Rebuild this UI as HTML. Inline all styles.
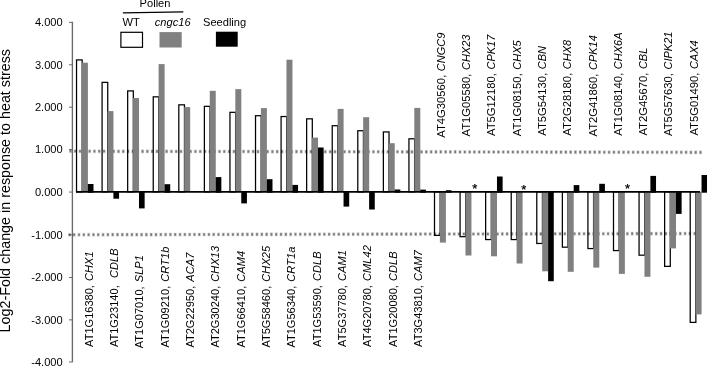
<!DOCTYPE html>
<html><head><meta charset="utf-8"><title>Log2-Fold change in response to heat stress</title>
<style>html,body{margin:0;padding:0;background:#fff}svg{display:block}</style></head>
<body>
<svg width="707" height="366" viewBox="0 0 707 366" font-family="Liberation Sans, Arial, Helvetica, sans-serif" fill="#000">
<rect width="707" height="366" fill="#fff"/>
<g stroke="#6a6a6a" stroke-width="1.35" fill="none">
<line x1="72.4" y1="21.87" x2="72.4" y2="362.23"/>
<line x1="69" y1="361.98" x2="72.4" y2="361.98" stroke-width="1"/>
<line x1="69" y1="319.86" x2="72.4" y2="319.86" stroke-width="1"/>
<line x1="69" y1="277.49" x2="72.4" y2="277.49" stroke-width="1"/>
<line x1="69" y1="234.87" x2="72.4" y2="234.87" stroke-width="1"/>
<line x1="69" y1="192.05" x2="72.4" y2="192.05" stroke-width="1"/>
<line x1="69" y1="149.63" x2="72.4" y2="149.63" stroke-width="1"/>
<line x1="69" y1="107.21" x2="72.4" y2="107.21" stroke-width="1"/>
<line x1="69" y1="64.79" x2="72.4" y2="64.79" stroke-width="1"/>
<line x1="69" y1="22.37" x2="72.4" y2="22.37" stroke-width="1"/>
</g>
<g font-size="11.1" text-anchor="end">
<text x="62.7" y="366.12">-4.000</text>
<text x="62.7" y="323.83">-3.000</text>
<text x="62.7" y="281.38">-2.000</text>
<text x="62.7" y="238.75">-1.000</text>
<text x="62.7" y="195.98">0.000</text>
<text x="62.7" y="153.49">1.000</text>
<text x="62.7" y="111.00">2.000</text>
<text x="62.7" y="68.51">3.000</text>
<text x="62.7" y="26.02">4.000</text>
</g>
<rect x="76.53" y="59.92" width="5.65" height="131.93" fill="#fff" stroke="#000" stroke-width="1.25"/>
<rect x="102.09" y="82.38" width="5.65" height="109.47" fill="#fff" stroke="#000" stroke-width="1.25"/>
<rect x="127.67" y="90.92" width="5.65" height="100.92" fill="#fff" stroke="#000" stroke-width="1.25"/>
<rect x="153.24" y="96.83" width="5.65" height="95.02" fill="#fff" stroke="#000" stroke-width="1.25"/>
<rect x="178.81" y="104.83" width="5.65" height="87.02" fill="#fff" stroke="#000" stroke-width="1.25"/>
<rect x="204.38" y="106.33" width="5.65" height="85.52" fill="#fff" stroke="#000" stroke-width="1.25"/>
<rect x="229.95" y="112.33" width="5.65" height="79.52" fill="#fff" stroke="#000" stroke-width="1.25"/>
<rect x="255.52" y="115.72" width="5.65" height="76.12" fill="#fff" stroke="#000" stroke-width="1.25"/>
<rect x="281.09" y="116.53" width="5.65" height="75.32" fill="#fff" stroke="#000" stroke-width="1.25"/>
<rect x="306.65" y="118.83" width="5.65" height="73.02" fill="#fff" stroke="#000" stroke-width="1.25"/>
<rect x="332.23" y="125.72" width="5.65" height="66.12" fill="#fff" stroke="#000" stroke-width="1.25"/>
<rect x="357.79" y="130.72" width="5.65" height="61.12" fill="#fff" stroke="#000" stroke-width="1.25"/>
<rect x="383.37" y="131.93" width="5.65" height="59.92" fill="#fff" stroke="#000" stroke-width="1.25"/>
<rect x="408.94" y="138.82" width="5.65" height="53.03" fill="#fff" stroke="#000" stroke-width="1.25"/>
<rect x="434.50" y="191.85" width="5.65" height="43.53" fill="#fff" stroke="#000" stroke-width="1.25"/>
<rect x="460.08" y="191.85" width="5.65" height="44.83" fill="#fff" stroke="#000" stroke-width="1.25"/>
<rect x="485.64" y="191.85" width="5.65" height="47.72" fill="#fff" stroke="#000" stroke-width="1.25"/>
<rect x="511.22" y="191.85" width="5.65" height="47.72" fill="#fff" stroke="#000" stroke-width="1.25"/>
<rect x="536.78" y="191.85" width="5.65" height="51.62" fill="#fff" stroke="#000" stroke-width="1.25"/>
<rect x="562.36" y="191.85" width="5.65" height="55.33" fill="#fff" stroke="#000" stroke-width="1.25"/>
<rect x="587.92" y="191.85" width="5.65" height="56.72" fill="#fff" stroke="#000" stroke-width="1.25"/>
<rect x="613.50" y="191.85" width="5.65" height="58.72" fill="#fff" stroke="#000" stroke-width="1.25"/>
<rect x="639.06" y="191.85" width="5.65" height="63.33" fill="#fff" stroke="#000" stroke-width="1.25"/>
<rect x="664.63" y="191.85" width="5.65" height="74.53" fill="#fff" stroke="#000" stroke-width="1.25"/>
<rect x="690.21" y="191.85" width="5.65" height="130.53" fill="#fff" stroke="#000" stroke-width="1.25"/>
<g stroke="rgba(0,0,0,0.09)" stroke-width="4.2" stroke-dasharray="3.3 1.51" stroke-dashoffset="0.65" fill="none">
<line x1="69.4" y1="151.25" x2="701.9" y2="152.35"/>
<line x1="68.4" y1="234.75" x2="695.4" y2="233.55"/>
</g>
<g stroke="rgba(0,0,0,0.20)" stroke-width="3.1" stroke-dasharray="2.4 2.41" stroke-dashoffset="0.2" fill="none">
<line x1="69.4" y1="151.25" x2="701.9" y2="152.35"/>
<line x1="68.4" y1="234.75" x2="695.4" y2="233.55"/>
</g>
<g stroke="rgba(0,0,0,0.36)" stroke-width="2.1" stroke-dasharray="1.6 3.21" stroke-dashoffset="-0.2" fill="none">
<line x1="69.4" y1="151.25" x2="701.9" y2="152.35"/>
<line x1="68.4" y1="234.75" x2="695.4" y2="233.55"/>
</g>
<rect x="81.90" y="62.70" width="6.0" height="129.15" fill="#808080"/>
<rect x="87.85" y="184.00" width="5.65" height="8.70"/>
<rect x="107.47" y="111.10" width="6.0" height="80.75" fill="#808080"/>
<rect x="113.42" y="191.85" width="5.65" height="6.85"/>
<rect x="133.04" y="98.00" width="6.0" height="93.85" fill="#808080"/>
<rect x="138.99" y="191.85" width="5.65" height="16.55"/>
<rect x="158.61" y="64.10" width="6.0" height="127.75" fill="#808080"/>
<rect x="164.56" y="184.20" width="5.65" height="8.50"/>
<rect x="184.18" y="107.10" width="6.0" height="84.75" fill="#808080"/>
<rect x="209.75" y="90.80" width="6.0" height="101.05" fill="#808080"/>
<rect x="215.70" y="177.10" width="5.65" height="15.60"/>
<rect x="235.32" y="89.10" width="6.0" height="102.75" fill="#808080"/>
<rect x="241.27" y="191.85" width="5.65" height="11.55"/>
<rect x="260.89" y="108.10" width="6.0" height="83.75" fill="#808080"/>
<rect x="266.84" y="179.20" width="5.65" height="13.50"/>
<rect x="286.46" y="59.70" width="6.0" height="132.15" fill="#808080"/>
<rect x="292.41" y="184.90" width="5.65" height="7.80"/>
<rect x="312.03" y="137.60" width="6.0" height="54.25" fill="#808080"/>
<rect x="317.98" y="147.50" width="5.65" height="45.20"/>
<rect x="337.60" y="108.90" width="6.0" height="82.95" fill="#808080"/>
<rect x="343.55" y="191.85" width="5.65" height="14.75"/>
<rect x="363.17" y="117.20" width="6.0" height="74.65" fill="#808080"/>
<rect x="369.12" y="191.85" width="5.65" height="17.65"/>
<rect x="388.74" y="143.20" width="6.0" height="48.65" fill="#808080"/>
<rect x="394.69" y="189.50" width="5.65" height="3.20"/>
<rect x="414.31" y="107.90" width="6.0" height="83.95" fill="#808080"/>
<rect x="420.26" y="189.60" width="5.65" height="3.10"/>
<rect x="439.88" y="191.85" width="6.0" height="50.75" fill="#808080"/>
<rect x="445.83" y="190.20" width="5.65" height="2.50"/>
<rect x="465.45" y="191.85" width="6.0" height="63.65" fill="#808080"/>
<rect x="491.02" y="191.85" width="6.0" height="64.45" fill="#808080"/>
<rect x="496.97" y="176.50" width="5.65" height="16.20"/>
<rect x="516.59" y="191.85" width="6.0" height="71.65" fill="#808080"/>
<rect x="542.16" y="191.85" width="6.0" height="79.45" fill="#808080"/>
<rect x="548.11" y="191.85" width="5.65" height="89.35"/>
<rect x="567.73" y="191.85" width="6.0" height="79.95" fill="#808080"/>
<rect x="573.68" y="185.10" width="5.65" height="7.60"/>
<rect x="593.30" y="191.85" width="6.0" height="75.75" fill="#808080"/>
<rect x="599.25" y="183.80" width="5.65" height="8.90"/>
<rect x="618.87" y="191.85" width="6.0" height="82.05" fill="#808080"/>
<rect x="644.44" y="191.85" width="6.0" height="84.95" fill="#808080"/>
<rect x="650.39" y="175.90" width="5.65" height="16.80"/>
<rect x="670.01" y="191.85" width="6.0" height="56.55" fill="#808080"/>
<rect x="675.96" y="191.85" width="5.65" height="22.05"/>
<rect x="695.58" y="191.85" width="6.0" height="122.55" fill="#808080"/>
<rect x="701.53" y="175.00" width="5.65" height="17.70"/>
<line x1="76" y1="191.85" x2="700" y2="191.85" stroke="#000" stroke-width="1.7"/>
<text x="474.70" y="193.10" font-size="13" text-anchor="middle" stroke="#000" stroke-width="0.25">*</text>
<text x="523.90" y="193.70" font-size="13" text-anchor="middle" stroke="#000" stroke-width="0.25">*</text>
<text x="627.60" y="193.10" font-size="13" text-anchor="middle" stroke="#000" stroke-width="0.25">*</text>
<text x="139.6" y="7.4" font-size="11.1">Pollen</text>
<line x1="122.9" y1="12.9" x2="183.3" y2="11.9" stroke="#000" stroke-width="1.2"/>
<text x="122.6" y="26.3" font-size="11.1">WT</text>
<text x="154.8" y="25.8" font-size="11.1" font-style="italic">cngc16</text>
<text x="203" y="25.8" font-size="11.1">Seedling</text>
<rect x="120.9" y="32.3" width="21.6" height="15" fill="#fff" stroke="#000" stroke-width="1.2"/>
<rect x="159.5" y="32.1" width="22.2" height="15.4" fill="#808080"/>
<rect x="215.9" y="31.7" width="21.8" height="15"/>
<text transform="translate(9.9 332.4) rotate(-90)" font-size="14.3" textLength="283.4" lengthAdjust="spacingAndGlyphs">Log2-Fold change in response to heat stress</text>
<g font-size="11.05">
<text transform="translate(92.50 346.9) rotate(-90)" xml:space="preserve">AT1G16380, <tspan font-style="italic" dx="1" letter-spacing="0.08">CHX1</tspan></text>
<text transform="translate(117.84 347.1) rotate(-90)" xml:space="preserve">AT1G23140, <tspan font-style="italic" dx="1" letter-spacing="0.08"> CDLB</tspan></text>
<text transform="translate(143.18 348.2) rotate(-90)" xml:space="preserve">AT1G07010, <tspan font-style="italic" dx="1" letter-spacing="0.08">SLP1</tspan></text>
<text transform="translate(168.52 347.6) rotate(-90)" xml:space="preserve">AT1G09210, <tspan font-style="italic" dx="1" letter-spacing="0.08">CRT1b</tspan></text>
<text transform="translate(193.86 347.6) rotate(-90)" xml:space="preserve">AT2G22950, <tspan font-style="italic" dx="1" letter-spacing="0.08">ACA7</tspan></text>
<text transform="translate(219.20 347.6) rotate(-90)" xml:space="preserve">AT2G30240, <tspan font-style="italic" dx="1" letter-spacing="0.08">CHX13</tspan></text>
<text transform="translate(244.54 347.6) rotate(-90)" xml:space="preserve">AT1G66410, <tspan font-style="italic" dx="1" letter-spacing="0.08">CAM4</tspan></text>
<text transform="translate(269.88 347.6) rotate(-90)" xml:space="preserve">AT5G58460, <tspan font-style="italic" dx="1" letter-spacing="0.08">CHX25</tspan></text>
<text transform="translate(295.22 347.6) rotate(-90)" xml:space="preserve">AT1G56340, <tspan font-style="italic" dx="1" letter-spacing="0.08">CRT1a</tspan></text>
<text transform="translate(320.56 346.9) rotate(-90)" xml:space="preserve">AT1G53590, <tspan font-style="italic" dx="1" letter-spacing="0.08">CDLB</tspan></text>
<text transform="translate(345.90 346.9) rotate(-90)" xml:space="preserve">AT5G37780, <tspan font-style="italic" dx="1" letter-spacing="0.08">CAM1</tspan></text>
<text transform="translate(371.24 346.9) rotate(-90)" xml:space="preserve">AT4G20780, <tspan font-style="italic" dx="1" letter-spacing="0.08">CML42</tspan></text>
<text transform="translate(396.58 346.9) rotate(-90)" xml:space="preserve">AT1G20080, <tspan font-style="italic" dx="1" letter-spacing="0.08">CDLB</tspan></text>
<text transform="translate(421.92 346.9) rotate(-90)" xml:space="preserve">AT3G43810, <tspan font-style="italic" dx="1" letter-spacing="0.08">CAM7</tspan></text>
<text font-size="11.25" transform="translate(444.70 137.7) rotate(-90)" xml:space="preserve">AT4G30560, <tspan font-style="italic" font-size="11" dx="0.4">CNGC9</tspan></text>
<text font-size="11.25" transform="translate(470.01 136.5) rotate(-90)" xml:space="preserve">AT1G05580, <tspan font-style="italic" font-size="11" dx="0.4">CHX23</tspan></text>
<text font-size="11.25" transform="translate(495.32 136.0) rotate(-90)" xml:space="preserve">AT5G12180, <tspan font-style="italic" font-size="11" dx="0.4">CPK17</tspan></text>
<text font-size="11.25" transform="translate(520.63 136.2) rotate(-90)" xml:space="preserve">AT1G08150, <tspan font-style="italic" font-size="11" dx="0.4">CHX5</tspan></text>
<text font-size="11.25" transform="translate(545.94 135.7) rotate(-90)" xml:space="preserve">AT5G54130, <tspan font-style="italic" font-size="11" dx="0.4">CBN</tspan></text>
<text font-size="11.25" transform="translate(571.25 135.7) rotate(-90)" xml:space="preserve">AT2G28180, <tspan font-style="italic" font-size="11" dx="0.4">CHX8</tspan></text>
<text font-size="11.25" transform="translate(596.56 136.5) rotate(-90)" xml:space="preserve">AT2G41860, <tspan font-style="italic" font-size="11" dx="0.4">CPK14</tspan></text>
<text font-size="11.25" transform="translate(621.87 135.7) rotate(-90)" xml:space="preserve">AT1G08140, <tspan font-style="italic" font-size="11" dx="0.4">CHX6A</tspan></text>
<text font-size="11.25" transform="translate(647.18 135.6) rotate(-90)" xml:space="preserve">AT2G45670, <tspan font-style="italic" font-size="11" dx="0.4">CBL</tspan></text>
<text font-size="11.25" transform="translate(672.49 136.0) rotate(-90)" xml:space="preserve">AT5G57630, <tspan font-style="italic" font-size="11" dx="0.4">CIPK21</tspan></text>
<text font-size="11.25" transform="translate(697.80 135.6) rotate(-90)" xml:space="preserve">AT5G01490, <tspan font-style="italic" font-size="11" dx="0.4">CAX4</tspan></text>
</g>
</svg>
</body></html>
